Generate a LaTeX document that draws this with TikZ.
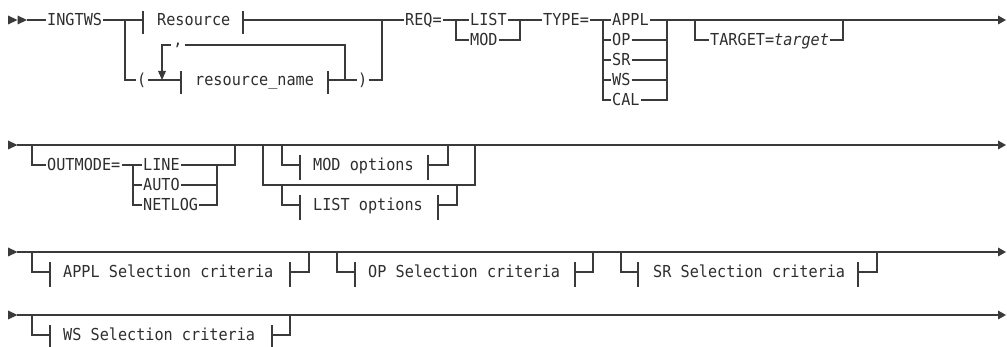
\documentclass[tikz,border=0pt]{standalone}
\usepackage{fontspec}
\newfontfamily\dm[FakeStretch=0.92]{DejaVu Sans Mono}
\definecolor{lc}{HTML}{3A3A3A}
\definecolor{tc}{HTML}{2E2E2E}
\begin{document}
\begin{tikzpicture}[x=1pt,y=-1pt,
  rr/.style={draw=lc, line width=1.2pt},
  tipf/.style={fill=lc, draw=none},
  kw/.style={font=\dm\fontsize{16.5}{16.5}\selectfont, text=tc, inner xsep=1pt, inner ysep=0pt, text height=12pt, text depth=0pt, anchor=west},
  cf/.style={font=\dm\fontsize{16.5}{16.5}\selectfont, text=tc, inner sep=0pt, anchor=base}]
\useasboundingbox (0,0) rectangle (1007,347);
% ================= Row 1 =================
\fill[tipf] (8,15.5) -- (17.5,20) -- (8,24.5) -- cycle;
\fill[tipf] (17.5,15.5) -- (27,20) -- (17.5,24.5) -- cycle;
\coordinate (s1) at (27,20);
\node[kw] (ing) at (46,20) {INGTWS};
\draw[rr] (s1) -- (ing.west);
\coordinate (b1) at (125,20);
% Resource fragment
\node[kw] (res) at (156,20) {Resource};
\coordinate (bl1) at (143,20);
\coordinate (br1) at (243,20);
\coordinate (j1) at (382,20);
\draw[rr] (ing.east) -- (b1) -- (bl1);
\draw[rr] (143,11) -- (143,34);
\draw[rr] (243,11) -- (243,34);
\draw[rr] (br1) -- (j1);
% resource_name repeat
\node[kw] (lp) at (136,80) {(};
\node[kw] (rn) at (194,80) {resource\_name};
\node[kw] (rp) at (357,80) {)};
\coordinate (bl2) at (181,80);
\coordinate (br2) at (328,80);
\coordinate (lr) at (345,80);
\coordinate (lt) at (345,45);
\coordinate (ll) at (162,45);
\node[cf] (cm) at (178,46) {,};
\draw[rr] (b1) -- (b1 |- lp) -- (lp.west);
\draw[rr] (lp.east) -- (bl2);
\draw[rr] (181,71) -- (181,94);
\draw[rr] (328,71) -- (328,94);
\draw[rr] (br2) -- (lr) -- (rp.west);
\draw[rr] (rp.east) -- (j1 |- rp) -- (j1);
\draw[rr] (lr) -- (lt) -- (185,45);
\draw[rr] (171,45) -- (ll) -- (162,71);
\fill[tipf] (158,71) -- (166,71) -- (162,80) -- cycle;
% REQ
\node[kw] (req) at (404,20) {REQ=};
\draw[rr] (j1) -- (req.west);
\coordinate (b2) at (456,20);
\node[kw] (list) at (469,20) {LIST};
\node[kw] (mod) at (469,40) {MOD};
\coordinate (j2) at (520,20);
\draw[rr] (req.east) -- (b2) -- (list.west);
\draw[rr] (b2) -- (b2 |- mod) -- (mod.west);
\draw[rr] (list.east) -- (j2);
\draw[rr] (mod.east) -- (j2 |- mod) -- (j2);
% TYPE
\node[kw] (type) at (542,20) {TYPE=};
\draw[rr] (j2) -- (type.west);
\coordinate (b3) at (603,20);
\coordinate (j3) at (667,20);
\node[kw] (appl) at (611,20) {APPL};
\node[kw] (op) at (611,40) {OP};
\node[kw] (sr) at (611,60) {SR};
\node[kw] (ws) at (611,80) {WS};
\node[kw] (cal) at (611,100) {CAL};
\draw[rr] (type.east) -- (b3) -- (b3 |- cal) -- (cal.west);
\foreach \n in {appl,op,sr,ws} {\draw[rr] (b3 |- \n) -- (\n.west); \draw[rr] (\n.east) -- (j3 |- \n);}
\draw[rr] (cal.east) -- (j3 |- cal) -- (j3);
% TARGET
\coordinate (b4) at (695,20);
\coordinate (j4) at (843,20);
\node[kw] (tgt) at (709,40) {TARGET=\textit{target}};
\draw[rr] (b4) -- (b4 |- tgt) -- (tgt.west);
\draw[rr] (tgt.east) -- (j4 |- tgt) -- (j4);
\coordinate (e1) at (998,20);
\draw[rr] (j3) -- (e1);
\fill[tipf] (998,15.5) -- (1006,20) -- (998,24.5) -- cycle;
% ================= Row 2 =================
\fill[tipf] (8,140.5) -- (17.5,145) -- (8,149.5) -- cycle;
\coordinate (s2) at (17,145);
\coordinate (e2) at (998,145);
\draw[rr] (s2) -- (e2);
\fill[tipf] (998,140.5) -- (1006,145) -- (998,149.5) -- cycle;
% OUTMODE
\coordinate (o1) at (32,145);
\coordinate (o2) at (235,145);
\node[kw] (om) at (46,165) {OUTMODE=};
\coordinate (ob) at (133,165);
\coordinate (oj) at (217,165);
\node[kw] (line) at (142,165) {LINE};
\node[kw] (auto) at (142,185) {AUTO};
\node[kw] (netlog) at (142,205) {NETLOG};
\draw[rr] (o1) -- (o1 |- om) -- (om.west);
\draw[rr] (om.east) -- (ob) -- (line.west);
\draw[rr] (ob) -- (ob |- netlog) -- (netlog.west);
\draw[rr] (ob |- auto) -- (auto.west);
\draw[rr] (line.east) -- (o2 |- line) -- (o2);
\draw[rr] (auto.east) -- (oj |- auto);
\draw[rr] (netlog.east) -- (oj |- netlog) -- (oj);
% MOD / LIST options
\coordinate (p1) at (263,145);
\coordinate (p2) at (475,145);
\coordinate (pm) at (263,185);
\draw[rr] (p1) -- (pm) -- (p2 |- pm) -- (p2);
\node[kw] (modo) at (312,165) {MOD options};
\coordinate (m1) at (282,145);
\coordinate (m2) at (448,145);
\draw[rr] (m1) -- (282,165) -- (300,165);
\draw[rr] (300,155) -- (300,180);
\draw[rr] (428,155) -- (428,180);
\draw[rr] (428,165) -- (m2 |- modo) -- (m2);
\node[kw] (listo) at (312,205) {LIST options};
\coordinate (l1) at (282,185);
\coordinate (l2) at (457,185);
\draw[rr] (l1) -- (282,205) -- (300,205);
\draw[rr] (300,195) -- (300,220);
\draw[rr] (438,195) -- (438,220);
\draw[rr] (438,205) -- (l2 |- listo) -- (l2);
% ================= Row 3 =================
\fill[tipf] (8,247.5) -- (17.5,252) -- (8,256.5) -- cycle;
\coordinate (s3) at (17,252);
\coordinate (e3) at (998,252);
\draw[rr] (s3) -- (e3);
\fill[tipf] (998,247.5) -- (1006,252) -- (998,256.5) -- cycle;
\node[kw] (apsel) at (62,272) {APPL Selection criteria};
\draw[rr] (32,252) -- (32,272) -- (50,272);
\draw[rr] (50,262) -- (50,287);
\draw[rr] (290,262) -- (290,287);
\draw[rr] (290,272) -- (309,272) -- (309,252);
\node[kw] (opsel) at (367,272) {OP Selection criteria};
\draw[rr] (337,252) -- (337,272) -- (355,272);
\draw[rr] (355,262) -- (355,287);
\draw[rr] (575,262) -- (575,287);
\draw[rr] (575,272) -- (593,272) -- (593,252);
\node[kw] (srsel) at (652,272) {SR Selection criteria};
\draw[rr] (621,252) -- (621,272) -- (638,272);
\draw[rr] (638,262) -- (638,287);
\draw[rr] (858,262) -- (858,287);
\draw[rr] (858,272) -- (877,272) -- (877,252);
% ================= Row 4 =================
\fill[tipf] (8,310.5) -- (17.5,315) -- (8,319.5) -- cycle;
\coordinate (s4) at (17,315);
\coordinate (e4) at (998,315);
\draw[rr] (s4) -- (e4);
\fill[tipf] (998,310.5) -- (1006,315) -- (998,319.5) -- cycle;
\node[kw] (wssel) at (62,335) {WS Selection criteria};
\draw[rr] (32,315) -- (32,335) -- (50,335);
\draw[rr] (50,325) -- (50,350);
\draw[rr] (272,325) -- (272,350);
\draw[rr] (272,335) -- (290,335) -- (290,315);
\draw[lc, line width=2pt] (295,315) -- (313,315);
\end{tikzpicture}
\end{document}
